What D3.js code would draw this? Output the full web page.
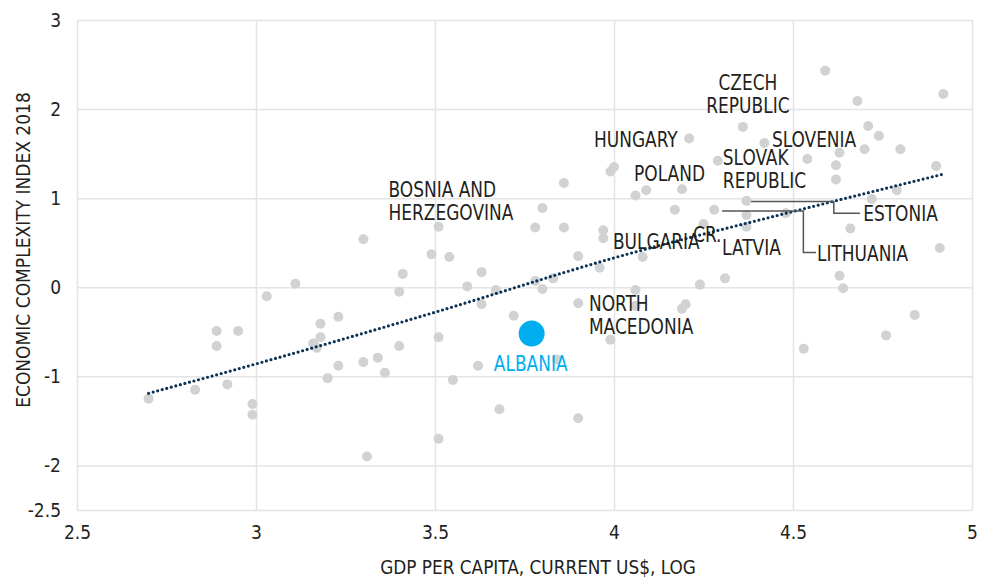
<!DOCTYPE html>
<html>
<head>
<meta charset="utf-8">
<script src="https://cdn.jsdelivr.net/npm/d3@7"></script>
<style>
  body { margin: 0; background: #fff; }
  svg text { font-family: "Liberation Sans Narrow", "DejaVu Sans Condensed", sans-serif; fill: #231f20; }
</style>
</head>
<body>
<div id="chart"></div>
<script>
// log GDP per capita (x) and economic complexity index (y)
let gdpLog = [2.70, 2.83, 2.89, 2.89, 2.92, 2.95, 2.99, 2.99, 3.03, 3.11,
    3.18, 3.18, 3.16, 3.17, 3.23, 3.23, 3.20, 3.30, 3.30, 3.34,
    3.36, 3.40, 3.41, 3.40, 3.49, 3.51, 3.54, 3.51, 3.55, 3.51,
    3.31, 3.59, 3.63, 3.63, 3.67, 3.72, 3.62, 3.68, 3.78, 3.80,
    3.83, 3.78, 3.80, 3.86, 3.86, 3.84, 3.90, 3.90, 3.96, 3.90,
    3.97, 3.97, 3.99, 4.00, 4.06, 4.09, 4.08, 4.06, 4.06, 3.99,
    4.17, 4.19, 4.21, 4.20, 4.19, 4.24, 4.31, 4.25, 4.28, 4.29,
    4.36, 4.37, 4.37, 4.37, 4.42, 4.48, 4.54, 4.53, 4.59, 4.62,
    4.62, 4.63, 4.63, 4.64, 4.66, 4.68, 4.70, 4.71, 4.74, 4.72,
    4.76, 4.79, 4.80, 4.84, 4.90, 4.92, 4.91];
let eci = [-1.25, -1.15, -0.49, -0.66, -1.09, -0.49, -1.31, -1.43, -0.10, 0.04,
    -0.41, -0.56, -0.63, -0.68, -0.33, -0.88, -1.02, 0.54, -0.84, -0.79,
    -0.96, -0.66, 0.15, -0.05, 0.37, 0.68, 0.34, -0.56, -1.04, -1.70,
    -1.90, 0.01, 0.17, -0.19, -0.03, -0.32, -0.88, -1.37, 0.07, -0.02,
    0.10, 0.67, 0.89, 0.67, 1.17, -0.81, -1.47, 0.35, 0.22, -0.18,
    0.64, 0.55, 1.30, 1.35, 1.03, 1.09, 0.34, -0.03, -0.21, -0.59,
    0.87, 1.10, 1.67, -0.19, -0.24, 0.03, 0.10, 0.71, 0.87, 1.42,
    1.80, 0.97, 0.81, 0.68, 1.62, 0.83, 1.44, -0.69, 2.43, 1.37,
    1.21, 1.51, 0.13, -0.01, 0.66, 2.09, 1.55, 1.81, 1.70, 0.99,
    -0.54, 1.09, 1.55, -0.31, 1.36, 2.17, 0.44];

// highlighted country
let albania = { name: "ALBANIA", x: 3.77, y: -0.52 };

// trend line, read at a few points
let trendX = [2.70, 3.00, 3.50, 4.00, 4.48, 4.92];
let trendY = [-1.19, -0.86, -0.28, 0.33, 0.83, 1.27];

let xTicks = [2.5, 3, 3.5, 4, 4.5, 5];
let yTicks = [-2.5, -2, -1, 0, 1, 2, 3];

// country labels, anchored in data units (first baseline)
let labels = [
    { lines: ["BOSNIA AND", "HERZEGOVINA"], x: 3.37, y: 1.01, anchor: "start" },
    { lines: ["CZECH", "REPUBLIC"], x: 4.374, y: 2.21, anchor: "middle" },
    { lines: ["HUNGARY"], x: 3.944, y: 1.58, anchor: "start" },
    { lines: ["POLAND"], x: 4.056, y: 1.19, anchor: "start" },
    { lines: ["SLOVENIA"], x: 4.441, y: 1.57, anchor: "start" },
    { lines: ["SLOVAK", "REPUBLIC"], x: 4.304, y: 1.37, anchor: "start" },
    { lines: ["ESTONIA"], x: 4.696, y: 0.74, anchor: "start" },
    { lines: ["LITHUANIA"], x: 4.567, y: 0.29, anchor: "start" },
    { lines: ["LATVIA"], x: 4.302, y: 0.36, anchor: "start" },
    { lines: ["BULGARIA"], x: 3.997, y: 0.43, anchor: "start" },
    { lines: ["CR."], x: 4.221, y: 0.51, anchor: "start" },
    { lines: ["NORTH", "MACEDONIA"], x: 3.930, y: -0.27, anchor: "start" }
];

// leader lines for Estonia and Lithuania
let leaders = [
    [[4.383, 0.962], [4.614, 0.962], [4.614, 0.831], [4.687, 0.831]],
    [[4.302, 0.857], [4.529, 0.857], [4.529, 0.389], [4.564, 0.389]]
];

let width = 988, height = 580;
let margin = { top: 20, right: 16, bottom: 70, left: 77 };

let svg = d3.select("#chart")
    .append("svg")
    .attr("width", width)
    .attr("height", height);

let x = d3.scaleLinear().domain([2.5, 5]).range([margin.left, width - margin.right]);
let y = d3.scaleLinear().domain([-2.5, 3]).range([height - margin.bottom, margin.top]);

// grid + axes
let gx = svg.append("g")
    .attr("transform", "translate(0," + (height - margin.bottom) + ")")
    .call(d3.axisBottom(x).tickValues(xTicks).tickFormat(d => String(d))
        .tickSize(-(height - margin.top - margin.bottom)).tickPadding(16));
let gy = svg.append("g")
    .attr("transform", "translate(" + margin.left + ",0)")
    .call(d3.axisLeft(y).tickValues(yTicks).tickFormat(d => String(d))
        .tickSize(-(width - margin.left - margin.right)).tickPadding(16));

[gx, gy].forEach(function (g) {
    g.select(".domain").remove();
    g.selectAll(".tick line").attr("stroke", "#e4e4e4").attr("stroke-width", 1.5);
    g.selectAll(".tick text").style("font-size", "19px").attr("fill", "#231f20");
});

// scatter points
let pts = gdpLog.map((d, i) => ({ x: d, y: eci[i] }));
svg.append("g")
    .selectAll("circle")
    .data(pts)
    .enter()
    .append("circle")
    .attr("cx", d => x(d.x))
    .attr("cy", d => y(d.y))
    .attr("r", 5)
    .attr("fill", "#d1d2d4");

// trend
let trend = trendX.map((d, i) => [d, trendY[i]]);
svg.append("path")
    .datum(trend)
    .attr("d", d3.line().x(d => x(d[0])).y(d => y(d[1])).curve(d3.curveMonotoneX))
    .attr("fill", "none")
    .attr("stroke", "#0c3355")
    .attr("stroke-width", 3.2)
    .attr("stroke-linecap", "round")
    .attr("stroke-dasharray", "0 4.7");

// albania
svg.append("circle")
    .attr("cx", x(albania.x))
    .attr("cy", y(albania.y))
    .attr("r", 13)
    .attr("fill", "#00aeef");

// leaders
svg.append("g")
    .selectAll("path")
    .data(leaders)
    .enter()
    .append("path")
    .attr("d", d3.line().x(d => x(d[0])).y(d => y(d[1])))
    .attr("fill", "none")
    .attr("stroke", "#555")
    .attr("stroke-width", 1.5);

// labels (squeezed a bit, the original face is condensed)
let lab = svg.append("g")
    .selectAll("g")
    .data(labels)
    .enter()
    .append("g")
    .attr("transform", d => "translate(" + x(d.x) + "," + y(d.y) + ") scale(0.9,1)")
    .append("text")
    .attr("text-anchor", d => d.anchor)
    .style("font-size", "21px");
lab.selectAll("tspan")
    .data(d => d.lines.map((t, i) => ({ t: t, i: i })))
    .enter()
    .append("tspan")
    .attr("x", 0)
    .attr("y", d => d.i * 23)
    .text(d => d.t);

svg.append("g")
    .attr("transform", "translate(" + (x(albania.x) - 1) + "," + y(-0.94) + ") scale(0.9,1)")
    .append("text")
    .attr("text-anchor", "middle")
    .style("font-size", "21px")
    .style("fill", "#00aeef")
    .text(albania.name);

// axis titles
svg.append("g")
    .attr("transform", "translate(538,574) scale(0.94,1)")
    .append("text")
    .attr("text-anchor", "middle")
    .style("font-size", "20px")
    .text("GDP PER CAPITA, CURRENT US$, LOG");

svg.append("g")
    .attr("transform", "translate(30,250) rotate(-90) scale(0.95,1)")
    .append("text")
    .attr("text-anchor", "middle")
    .style("font-size", "20px")
    .text("ECONOMIC COMPLEXITY INDEX 2018");
</script>
</body>
</html>
